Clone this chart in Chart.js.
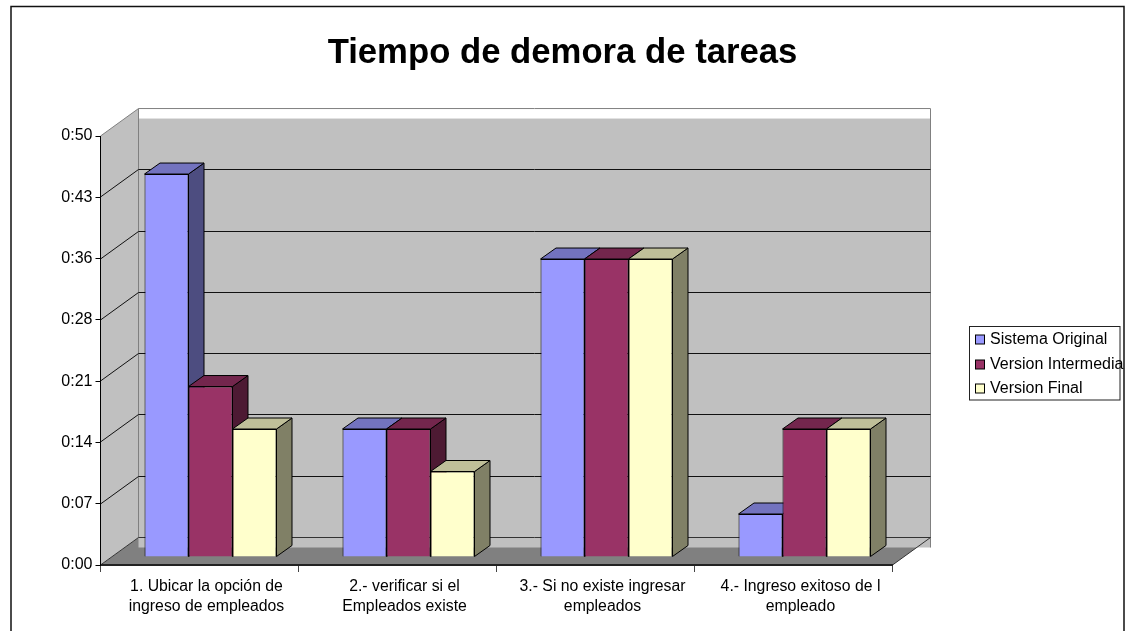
<!DOCTYPE html>
<html><head><meta charset="utf-8">
<style>html,body{margin:0;padding:0;background:#fff}canvas{display:block}</style>
<script src="https://cdn.jsdelivr.net/npm/chart.js@4/dist/chart.umd.js"></script>
</head><body><canvas id="c" width="1131" height="631"></canvas>
<script>
const titleText = "Tiempo de demora de tareas";
const categories = [
  ["1. Ubicar la opción de","ingreso de empleados"],
  ["2.- verificar si el","Empleados existe"],
  ["3.- Si no existe ingresar","empleados"],
  ["4.- Ingreso exitoso de l","empleado"]
];
const tickLabels = ["0:00","0:07","0:14","0:21","0:28","0:36","0:43","0:50"];
const axisMaxSeconds = 50;
const sistemaOriginal = [45,15,35,5];
const versionIntermedia = [20,15,35,15];
const versionFinal = [15,10,35,15];

const FONT = "'Liberation Sans', Arial, sans-serif";
const AREA = {left:100.5, right:892.5, top:136, bottom:565};
const WALL = {dx:38, dy:-27.5, whiteBand:10, lowerLip:10};
const BAR = {dx:15.5, dy:-11, shiftX:11, baseRise:8.5, pxPerUnit:8.5};
const LEGEND = {x:969.5, y:326.5, w:150.5, h:73.5};
const legendRows = [339.5,364.5,388.5];

function shade(hex,f){
  const n=parseInt(hex.slice(1),16);
  const c=[n>>16&255,n>>8&255,n&255].map(v=>Math.round(v*f));
  return `rgb(${c[0]},${c[1]},${c[2]})`;
}
function poly(ctx,pts,fill,stroke,lw){
  ctx.beginPath();
  pts.forEach((p,i)=>i?ctx.lineTo(p[0],p[1]):ctx.moveTo(p[0],p[1]));
  ctx.closePath();
  if(fill){ctx.fillStyle=fill;ctx.fill();}
  if(stroke){ctx.strokeStyle=stroke;ctx.lineWidth=lw||1;ctx.stroke();}
}
const scene = {
  id:'scene',
  beforeDraw(chart){
    const {ctx,scales:{y}}=chart, a=chart.chartArea, dx=WALL.dx, dy=WALL.dy;
    const backB=a.bottom+dy, backT=a.top+dy, backR=a.right+dx, backL=a.left+dx;
    ctx.save();
    poly(ctx,[[a.left,a.bottom],[backL,backB],[backR,backB],[a.right,a.bottom]],'#808080');
    poly(ctx,[[a.left,a.top],[backL,backT],[backL,backB],[a.left,a.bottom]],'#C0C0C0');
    ctx.fillStyle='#C0C0C0';
    ctx.fillRect(backL,backT+WALL.whiteBand,backR-backL,backB+WALL.lowerLip-backT-WALL.whiteBand);
    ctx.strokeStyle='#808080';ctx.lineWidth=1;
    ctx.beginPath();
    ctx.moveTo(a.left,a.top);ctx.lineTo(backL,backT);ctx.lineTo(backR,backT);ctx.lineTo(backR,backB+WALL.lowerLip);
    ctx.moveTo(backL,backT);ctx.lineTo(backL,backB);
    ctx.stroke();
    y.ticks.forEach((t,i)=>{
      if(i===y.ticks.length-1) return;
      const py=Math.round(y.getPixelForValue(t.value));
      ctx.beginPath();
      ctx.moveTo(a.left,py);ctx.lineTo(backL,py+dy);ctx.lineTo(backR,py+dy);
      if(i===0) ctx.lineTo(a.right,py);
      ctx.strokeStyle=i===0?'#333':'#111';
      ctx.stroke();
    });
    ctx.restore();
  },
  beforeDatasetsDraw(chart){
    const {ctx}=chart;
    ctx.save();
    ctx.translate(BAR.shiftX,0);
    chart.data.datasets.forEach((ds,di)=>{
      chart.getDatasetMeta(di).data.forEach(el=>{
        const p=el.getProps(['x','y','base','width'],true);
        const L=p.x-p.width/2,R=p.x+p.width/2,T=p.y,B=p.base,dx=BAR.dx,dy=BAR.dy;
        poly(ctx,[[R,T],[R+dx,T+dy],[R+dx,B+dy],[R,B]],shade(ds.backgroundColor,.5),'#000',1);
        poly(ctx,[[L,T],[L+dx,T+dy],[R+dx,T+dy],[R,T]],shade(ds.backgroundColor,.75),'#000',1);
      });
    });
  },
  afterDatasetsDraw(chart){chart.ctx.restore();},
  afterDraw(chart){
    const {ctx}=chart;
    ctx.save();
    ctx.strokeStyle='#111';ctx.lineWidth=1.5;
    ctx.beginPath();ctx.moveTo(11,631);ctx.lineTo(11,6.5);ctx.lineTo(1124,6.5);ctx.lineTo(1124,631);ctx.stroke();
    ctx.strokeStyle='#222';ctx.lineWidth=1;ctx.fillStyle='#fff';
    ctx.fillRect(LEGEND.x,LEGEND.y,LEGEND.w,LEGEND.h);
    ctx.strokeRect(LEGEND.x,LEGEND.y,LEGEND.w,LEGEND.h);
    ctx.font="16px "+FONT;ctx.textBaseline='middle';ctx.textAlign='left';
    chart.data.datasets.forEach((ds,i)=>{
      const yy=legendRows[i];
      ctx.fillStyle=ds.backgroundColor;
      ctx.fillRect(975.5,yy-4.5,9,9);
      ctx.strokeStyle='#000';ctx.strokeRect(975.5,yy-4.5,9,9);
      ctx.fillStyle='#000';
      ctx.fillText(ds.label,990,yy+0.5);
    });
    ctx.restore();
  }
};
new Chart(document.getElementById('c'),{
  type:'bar',
  plugins:[scene],
  data:{labels:categories,datasets:[
    {label:"Sistema Original",data:sistemaOriginal,backgroundColor:'#9999FF'},
    {label:"Version Intermedia",data:versionIntermedia,backgroundColor:'#993366'},
    {label:"Version Final",data:versionFinal,backgroundColor:'#FFFFCC'}
  ].map(d=>({...d,yAxisID:'yb',borderColor:'#000',borderWidth:1,categoryPercentage:132/198,barPercentage:1}))},
  options:{
    responsive:false,animation:false,
    layout:{padding:{left:0,right:6,top:0,bottom:0}},
    plugins:{
      legend:{display:false},tooltip:{enabled:false},
      title:{display:true,text:titleText,color:'#000',
        font:{family:FONT,size:34.7,weight:'bold',lineHeight:1.2},
        padding:{top:33,bottom:61.4}}
    },
    scales:{
      x:{type:'category',offset:true,
        afterFit(s){s.height=631-AREA.bottom;},
        border:{color:'#222',width:2},
        grid:{drawOnChartArea:false,drawTicks:true,tickLength:7,color:'#444',offset:true},
        ticks:{color:'#000',padding:5,labelOffset:7,maxRotation:0,autoSkip:false,font:{family:FONT,size:15.8,lineHeight:1.24}}
      },
      y:{type:'linear',position:'left',min:0,max:axisMaxSeconds,
        afterBuildTicks(s){s.ticks=tickLabels.map((_,i)=>({value:i*axisMaxSeconds/(tickLabels.length-1)}));},
        afterFit(s){s.width=AREA.left;},
        border:{color:'#000',width:1},
        grid:{drawOnChartArea:false,drawTicks:true,tickLength:5,color:'#000'},
        ticks:{color:'#000',padding:3,font:{family:FONT,size:16},callback:(v,i)=>tickLabels[i]}
      },
      yb:{type:'linear',position:'right',min:-BAR.baseRise/BAR.pxPerUnit,
        max:(AREA.bottom-BAR.baseRise-AREA.top)/BAR.pxPerUnit,
        afterFit(s){s.width=1125-AREA.right;},
        border:{display:false},grid:{display:false},ticks:{display:false}
      }
    }
  }
});
</script></body></html>
